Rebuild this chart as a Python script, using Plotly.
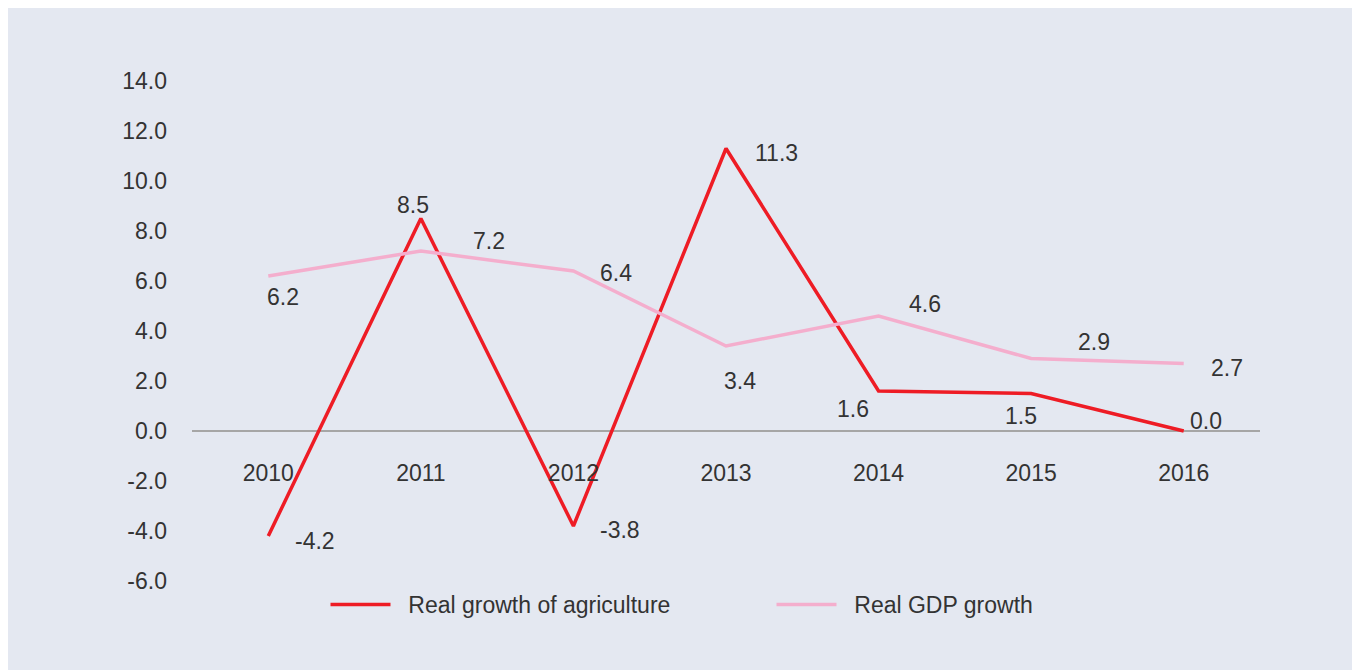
import plotly.graph_objects as go

years = ["2010", "2011", "2012", "2013", "2014", "2015", "2016"]
agriculture = [-4.2, 8.5, -3.8, 11.3, 1.6, 1.5, 0.0]
gdp = [6.2, 7.2, 6.4, 3.4, 4.6, 2.9, 2.7]
y_ticks = [-6, -4, -2, 0, 2, 4, 6, 8, 10, 12, 14]
y_ticktext = [f"{v:.1f}" for v in y_ticks]

# label offsets (pixels, x right / y up) for each data label
agri_shift = [(47, -5), (-8, 14), (47, -4), (50, -4), (-26, -18), (-10, -22), (22, 10)]
gdp_shift = [(15, -21), (68, 10), (43, -2), (14, -35), (46, 12), (63, 17), (43, -4)]

RED = "#ee1c25"
PINK = "#f4aecd"
TEXT = "#333333"
BG = "#e4e8f1"
FONT = "Liberation Sans, Arial, sans-serif"
FS = 23
NB = "\u00a0\u00a0"

fig = go.Figure()
fig.add_trace(go.Scatter(x=years, y=agriculture, mode="lines", name=NB + "Real growth of agriculture",
                         line=dict(color=RED, width=3.5)))
fig.add_trace(go.Scatter(x=years, y=gdp, mode="lines", name=NB + "Real GDP growth",
                         line=dict(color=PINK, width=3.5)))

annotations = []
for vals, shifts in ((agriculture, agri_shift), (gdp, gdp_shift)):
    for i, (v, (dx, dy)) in enumerate(zip(vals, shifts)):
        annotations.append(dict(x=i, y=v, xref="x", yref="y", text=f"{v:.1f}", showarrow=False,
                                xshift=dx, yshift=dy, font=dict(size=FS, color=TEXT, family=FONT)))

fig.update_layout(
    width=1352, height=662,
    paper_bgcolor=BG, plot_bgcolor=BG,
    margin=dict(l=184, r=100, t=73, b=89),
    font=dict(family=FONT, size=FS, color=TEXT),
    showlegend=True,
    legend=dict(orientation="h", x=0.125, y=-0.004, xanchor="left", yanchor="top",
                entrywidth=371, entrywidthmode="pixels", itemwidth=60,
                font=dict(size=FS, color=TEXT, family=FONT), bgcolor="rgba(0,0,0,0)"),
    annotations=annotations,
    xaxis=dict(type="category", range=[-0.5, 6.5], showgrid=False, showline=False, zeroline=False,
               anchor="free", position=0.3, ticks="", ticklabelstandoff=26,
               tickfont=dict(size=FS, color=TEXT, family=FONT)),
    yaxis=dict(range=[-6, 14], tickvals=y_ticks, ticktext=y_ticktext, showgrid=False, showline=False,
               zeroline=True, zerolinecolor="#a6a6a6", zerolinewidth=2, ticks="",
               ticklabelstandoff=24, tickfont=dict(size=FS, color=TEXT, family=FONT)),
)

fig.write_html("out.html")
